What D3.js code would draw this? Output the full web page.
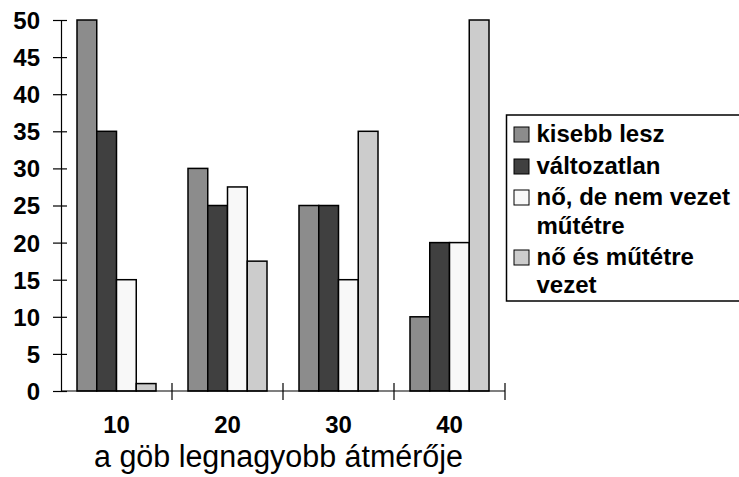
<!DOCTYPE html>
<html>
<head>
<meta charset="utf-8">
<script src="https://cdn.jsdelivr.net/npm/d3@7"></script>
<style>
  html, body { margin: 0; padding: 0; background: #fff; }
  svg { display: block; }
  text { font-family: "Liberation Sans", Arial, sans-serif; fill: #000; }
</style>
</head>
<body>
<svg id="chart" width="739" height="477"></svg>
<script>
const categories = ["10", "20", "30", "40"];
const seriesNames = ["kisebb lesz", "változatlan", "nő, de nem vezet műtétre", "nő és műtétre vezet"];
const legendLines = [["kisebb lesz"], ["változatlan"], ["nő, de nem vezet", "műtétre"], ["nő és műtétre", "vezet"]];
const kisebbLesz = [50, 30, 25, 10];
const valtozatlan = [35, 25, 25, 20];
const noNemVezet = [15, 27.5, 15, 20];
const noMutetre = [1, 17.5, 35, 50];
const yTicks = [0, 5, 10, 15, 20, 25, 30, 35, 40, 45, 50];
const xTitle = "a göb legnagyobb átmérője";
const colors = ["#8c8c8c", "#404040", "#f8f8f8", "#cccccc"];

const values = [kisebbLesz, valtozatlan, noNemVezet, noMutetre];
const svg = d3.select("#chart");

const x0 = d3.scaleBand().domain(categories).range([61, 505]).padding(0);
const x1 = d3.scaleBand().domain(d3.range(seriesNames.length)).range([0, x0.bandwidth()]).paddingInner(0).paddingOuter(0.81);
const y = d3.scaleLinear().domain([0, 50]).range([391, 20]);

// Bars
categories.forEach((c, ci) => {
  const g = svg.append("g").attr("transform", `translate(${x0(c)},0)`);
  values.forEach((arr, si) => {
    g.append("rect")
      .attr("x", x1(si))
      .attr("y", y(arr[ci]))
      .attr("width", x1.bandwidth())
      .attr("height", y(0) - y(arr[ci]))
      .attr("fill", colors[si])
      .attr("stroke", "#000")
      .attr("stroke-width", 1.5);
  });
});

// Y axis
const yAxis = d3.axisLeft(y).tickValues(yTicks).tickSizeInner(8).tickSizeOuter(0).tickPadding(12).tickFormat(d3.format("d"));
const ya = svg.append("g").attr("transform", "translate(61,0)").call(yAxis);
ya.select(".domain").attr("stroke", "#000").attr("stroke-width", 1.2);
ya.selectAll(".tick line").attr("stroke", "#000").attr("stroke-width", 1.2).attr("x1", 6);
ya.selectAll(".tick text").attr("font-size", "24px").attr("font-weight", "bold")
  .attr("font-family", "Liberation Sans, Arial, sans-serif").attr("fill", "#000").attr("x", -21).attr("dy", "0.35em");

// X axis line and boundary ticks
svg.append("line").attr("x1", x0.range()[0]).attr("x2", x0.range()[1])
  .attr("y1", y(0)).attr("y2", y(0)).attr("stroke", "#000").attr("stroke-width", 1.2);
const bounds = categories.map(c => x0(c)).concat([x0.range()[1]]);
svg.selectAll(".xtick").data(bounds.slice(1)).enter().append("line")
  .attr("x1", d => d).attr("x2", d => d)
  .attr("y1", y(0) - 8).attr("y2", y(0) + 9)
  .attr("stroke", "#000").attr("stroke-width", 1.2);
svg.selectAll(".xlab").data(categories).enter().append("text")
  .attr("x", d => x0(d) + x0.bandwidth() / 2)
  .attr("y", 433)
  .attr("text-anchor", "middle")
  .attr("font-size", "24px").attr("font-weight", "bold")
  .text(d => d);

// X title
svg.append("text")
  .attr("x", 278.5).attr("y", 467)
  .attr("text-anchor", "middle")
  .attr("font-size", "31px")
  .attr("textLength", 369).attr("lengthAdjust", "spacingAndGlyphs")
  .text(xTitle);

// Legend
const lg = svg.append("g");
lg.append("rect").attr("x", 506.5).attr("y", 115).attr("width", 260).attr("height", 186)
  .attr("fill", "#fff").attr("stroke", "#000").attr("stroke-width", 1.5);
const baselines = [[142], [174], [205, 234], [265, 293]];
legendLines.forEach((lines, i) => {
  lg.append("rect").attr("x", 514).attr("y", baselines[i][0] - 15).attr("width", 15).attr("height", 15)
    .attr("fill", colors[i]).attr("stroke", "#000").attr("stroke-width", 1);
  lines.forEach((t, j) => {
    lg.append("text").attr("x", 536.5).attr("y", baselines[i][j])
      .attr("font-size", "24px").attr("font-weight", "bold").text(t);
  });
});
</script>
</body>
</html>
